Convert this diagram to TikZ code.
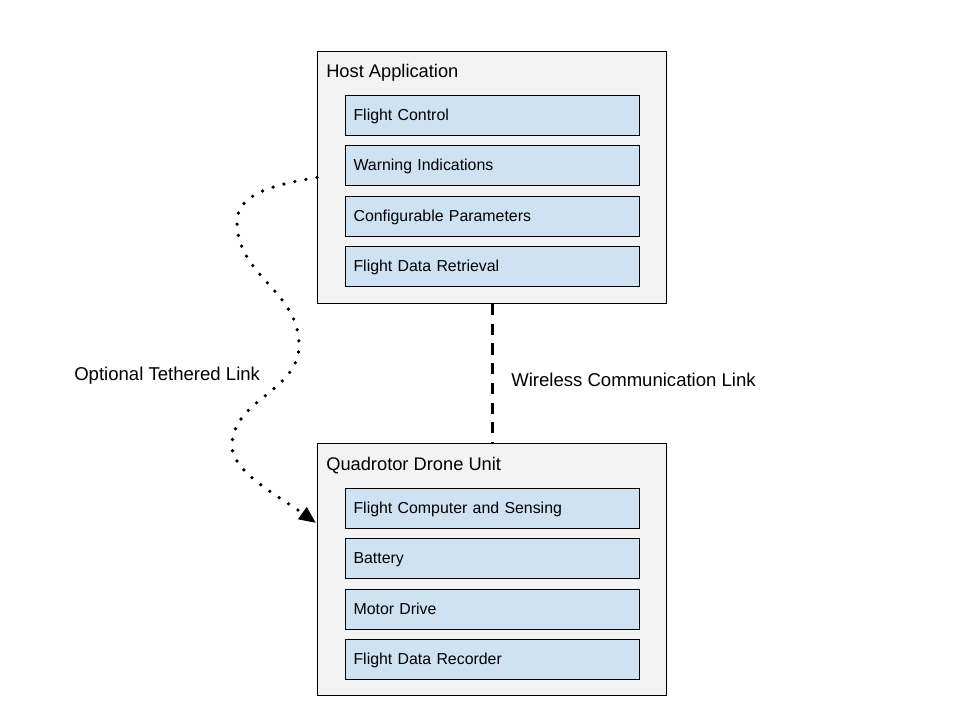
\documentclass[tikz,border=0pt]{standalone}
\usepackage{fontspec}
\setmainfont{Liberation Sans}
\usetikzlibrary{arrows.meta, positioning}
\definecolor{panelgray}{HTML}{F3F3F3}
\definecolor{itemblue}{HTML}{CFE2F3}

\begin{document}
\begin{tikzpicture}[x=0.025cm, y=-0.025cm, node distance=0.232cm]
    % Styles
    \tikzstyle{panel} = [rectangle, draw, fill=panelgray, line width=0.75pt, minimum width=8.725cm, minimum height=6.3cm, anchor=north west]
    \tikzstyle{boxtitle} = [font=\fontsize{13}{15}\selectfont, anchor=base west, inner sep=0pt]
    \tikzstyle{item} = [rectangle, draw, fill=itemblue, line width=0.75pt, text width=6.95cm, inner xsep=0.2cm, minimum height=1cm, text height=0.93em, text depth=0.21em, align=left, font=\fontsize{11.3}{13}\selectfont]
    \tikzstyle{linklabel} = [font=\fontsize{13.2}{15}\selectfont, anchor=base west, inner sep=0pt]
    \tikzstyle{wireless} = [line width=2.1pt, dash pattern=on 8pt off 6pt]
    \tikzstyle{tether} = [line width=2.6pt, line cap=round, dash pattern=on 0pt off 8pt, -{Triangle[length=12pt, width=10pt]}]

    \useasboundingbox (0,0) rectangle (960,720);

    % Nodes
    \node[panel] (host) at (317,51) {};
    \node[boxtitle] (hosttitle) at (326,77.5) {Host Application};
    \node[item, anchor=north west] (control) at (345,95) {Flight Control};
    \node[item, below=of control] (warning) {Warning Indications};
    \node[item, below=of warning] (params) {Configurable Parameters};
    \node[item, below=of params] (retrieval) {Flight Data Retrieval};

    \node[panel] (drone) at (317,443) {};
    \node[boxtitle] (dronetitle) at (326,470.5) {Quadrotor Drone Unit};
    \node[item, anchor=north west] (computer) at (345,488) {Flight Computer and Sensing};
    \node[item, below=of computer] (battery) {Battery};
    \node[item, below=of battery] (motor) {Motor Drive};
    \node[item, below=of motor] (recorder) {Flight Data Recorder};

    \node[linklabel] (wirelesslabel) at (511,386.5) {Wireless Communication Link};
    \node[linklabel] (tetherlabel) at (74,380.5) {Optional Tethered Link};
    \coordinate (tetherend) at (316,523);

    % Paths
    \draw[wireless] (host) -- (drone);
    \draw[tether] (host.west) .. controls (270,185) and (237,195) .. (237,222)
        .. controls (237,276) and (299,291) .. (299,345)
        .. controls (299,392) and (232,399) .. (232,446)
        .. controls (232,472) and (280,497) .. (tetherend);
\end{tikzpicture}
\end{document}
